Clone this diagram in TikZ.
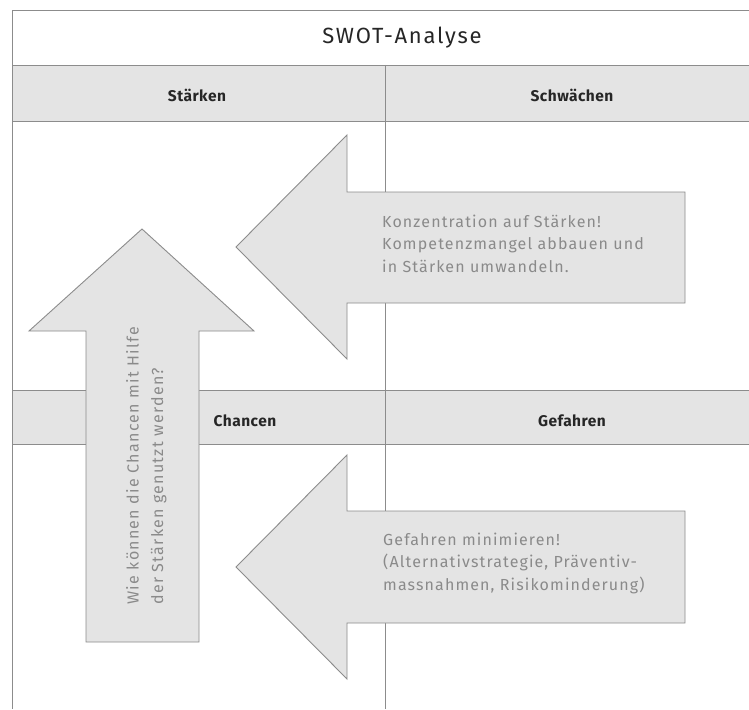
\documentclass[tikz,border=0pt]{standalone}
\usepackage{fontspec}
\setmainfont{Fira Sans}
\definecolor{bandgray}{HTML}{E4E4E4}
\definecolor{linegray}{HTML}{8C8C8C}
\definecolor{txtgray}{HTML}{8A8A8A}
\definecolor{darktxt}{HTML}{262626}
\tikzset{
  gridline/.style={draw=linegray, line width=0.9pt},
  band/.style={fill=bandgray, draw=linegray, line width=0.9pt},
  bigarrow/.style={fill=bandgray, draw=linegray, line width=0.9pt, line join=miter},
  headtxt/.style={font=\fontsize{15.5}{18}\selectfont\bfseries\addfontfeatures{LetterSpace=3}, text=darktxt, inner sep=0pt},
  titletxt/.style={font=\fontsize{22}{26}\selectfont\addfontfeatures{LetterSpace=8}, text=darktxt, inner sep=0pt},
  arrowtxt/.style={font=\fontsize{16}{22.5}\selectfont\addfontfeatures{LetterSpace=7}, text=txtgray, inner sep=0pt, align=left},
  vtxt/.style={font=\fontsize{16}{24.5}\selectfont\addfontfeatures{LetterSpace=8}, text=txtgray, inner sep=0pt, align=left}
}
\begin{document}
\begin{tikzpicture}[x=1pt, y=-1pt]
\useasboundingbox (0,0) rectangle (749,709);
\fill[white] (0,0) rectangle (749,709);
% frame
\draw[gridline] (749,10) -- (12,10) -- (12,709);
% header bands
\draw[band] (12,65) rectangle (760,121);
\draw[band] (12,390) rectangle (760,444);
% vertical divider
\draw[gridline] (385,65) -- (385,709);
% title and headers
\node[titletxt] (title) at (402,38) {SWOT-Analyse};
\node[headtxt] (st) at (197,95) {Stärken};
\node[headtxt] (sw) at (572,95) {Schwächen};
\node[headtxt] (ch) at (245,421) {Chancen};
\node[headtxt] (ge) at (572,421) {Gefahren};
% upper left-pointing arrow
\draw[bigarrow] (236,247) -- (347,135) -- (347,192) -- (685,192) -- (685,303) -- (347,303) -- (347,359) -- cycle;
% lower left-pointing arrow
\draw[bigarrow] (236,567) -- (347,455) -- (347,511) -- (685,511) -- (685,623) -- (347,623) -- (347,679) -- cycle;
% up arrow
\draw[bigarrow] (142,229) -- (254,331) -- (199,331) -- (199,642) -- (86,642) -- (86,331) -- (29,331) -- cycle;
% arrow texts
\node[arrowtxt, anchor=base west] (t1) at (382,272) {Konzentration auf Stärken!\\Kompetenzmangel abbauen und\\in Stärken umwandeln.};
\node[arrowtxt, anchor=base west] (t2) at (383,590) {Gefahren minimieren!\\(Alternativstrategie, Präventiv-\\massnahmen, Risikominderung)};
\node[vtxt, anchor=base west, rotate=90] (t3) at (163,605) {Wie können die Chancen mit Hilfe\\der Stärken genutzt werden?};
\end{tikzpicture}
\end{document}
